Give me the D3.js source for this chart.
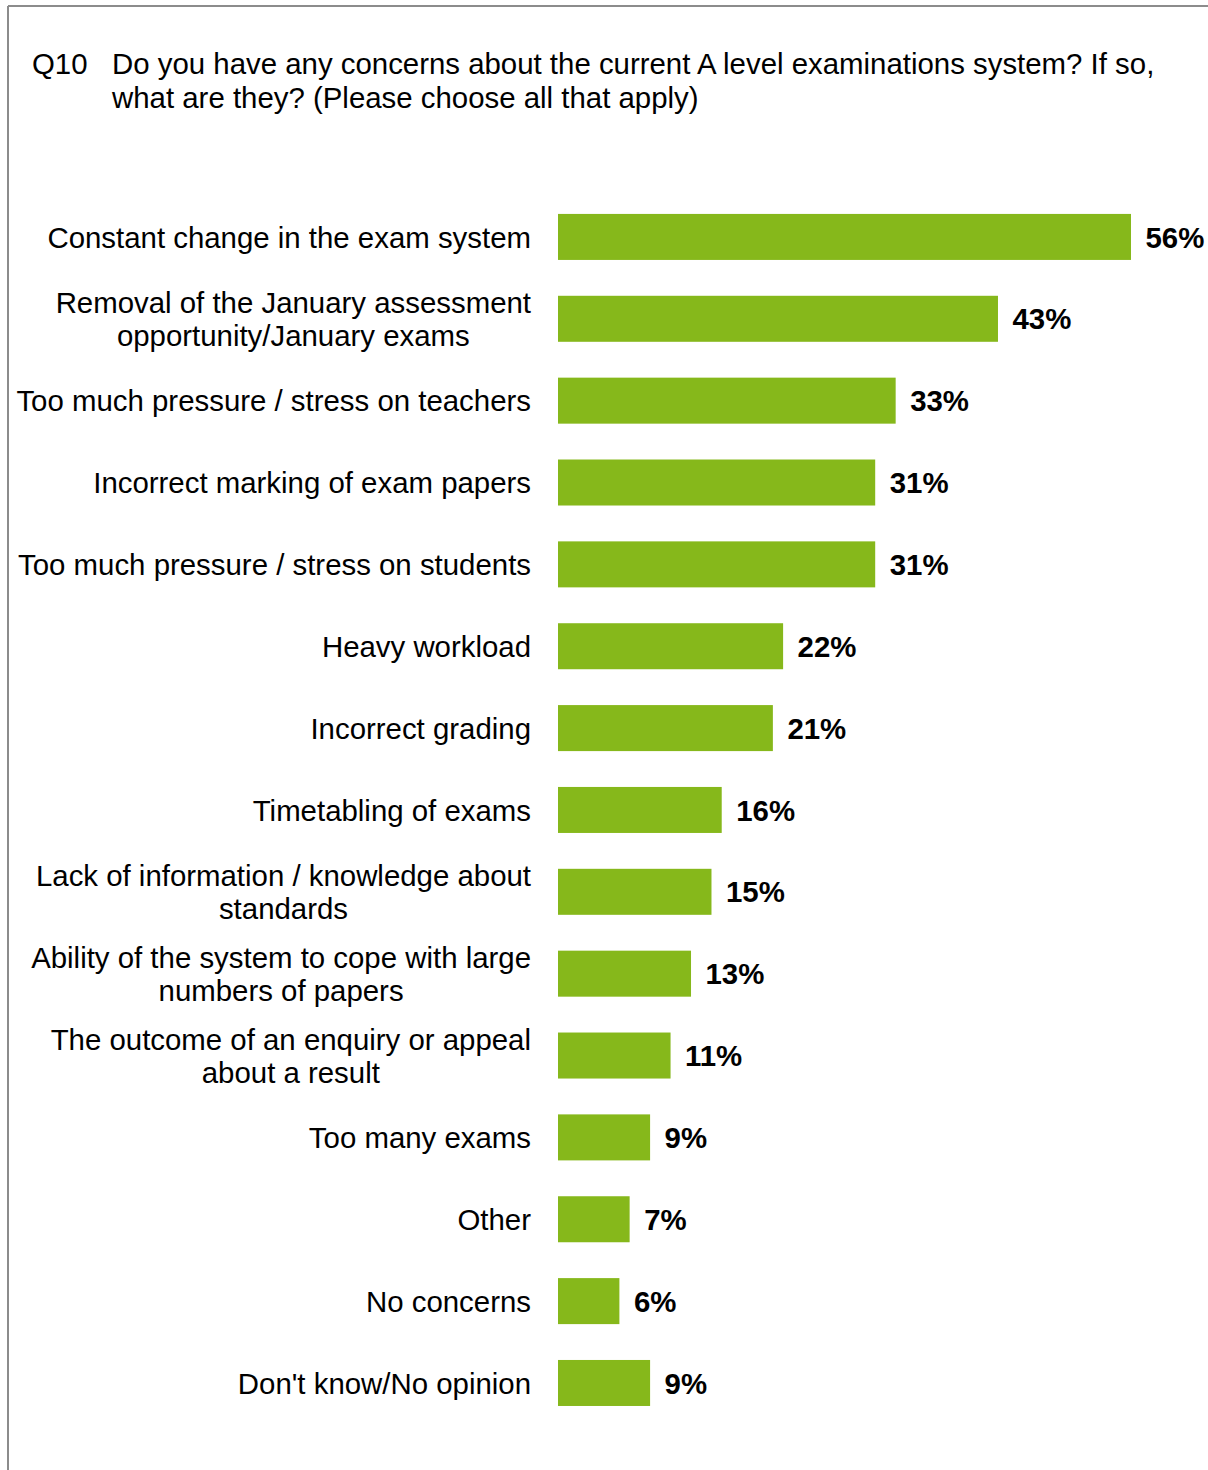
<!DOCTYPE html>
<html>
<head>
<meta charset="utf-8">
<script src="https://cdn.jsdelivr.net/npm/d3@7"></script>
<style>
  html, body { margin: 0; padding: 0; background: #fff; }
  svg { display: block; font-family: "Liberation Sans", Arial, sans-serif; }
</style>
</head>
<body>
<svg id="chart" width="1208" height="1470"></svg>
<script>
// Survey question and answer categories (multi-line labels split with "\n")
const titleNumber = "Q10";
const titleLines = [
  "Do you have any concerns about the current A level examinations system? If so,",
  "what are they? (Please choose all that apply)"
];
const categories = [
  "Constant change in the exam system",
  "Removal of the January assessment\nopportunity/January exams",
  "Too much pressure / stress on teachers",
  "Incorrect marking of exam papers",
  "Too much pressure / stress on students",
  "Heavy workload",
  "Incorrect grading",
  "Timetabling of exams",
  "Lack of information / knowledge about\nstandards",
  "Ability of the system to cope with large\nnumbers of papers",
  "The outcome of an enquiry or appeal\nabout a result",
  "Too many exams",
  "Other",
  "No concerns",
  "Don't know/No opinion"
];
// Share of respondents (%)
const values = [56, 43, 33, 31, 31, 22, 21, 16, 15, 13, 11, 9, 7, 6, 9];

const svg = d3.select("#chart");
const barColor = "#86b81b";
const fontSize = 29.4;

// Frame
svg.append("line").attr("x1", 8).attr("y1", 6).attr("x2", 1208).attr("y2", 6)
  .attr("stroke", "#8c8c8c").attr("stroke-width", 2);
svg.append("line").attr("x1", 8).attr("y1", 6).attr("x2", 8).attr("y2", 1470)
  .attr("stroke", "#8c8c8c").attr("stroke-width", 2);

// Title
const title = svg.append("g").attr("font-size", fontSize).attr("fill", "#000");
title.append("text").attr("x", 32).attr("y", 74).text(titleNumber);
titleLines.forEach((t, i) => {
  title.append("text").attr("x", 112).attr("y", 74 + i * 34).text(t);
});

// Scales
const x = d3.scaleLinear().domain([0, 56]).range([558, 1131]);
const y = d3.scaleBand()
  .domain(d3.range(categories.length))
  .range([196, 196 + 15 * 81.86])
  .paddingInner(0.438)
  .paddingOuter(0.219);

const data = categories.map((c, i) => ({ label: c, value: values[i], i }));

// Bars
svg.append("g").selectAll("rect").data(data).join("rect")
  .attr("x", x(0))
  .attr("y", d => y(d.i))
  .attr("width", d => x(d.value) - x(0))
  .attr("height", y.bandwidth())
  .attr("fill", barColor);

// Value labels
svg.append("g").attr("font-size", fontSize).attr("font-weight", "bold")
  .selectAll("text").data(data).join("text")
  .attr("x", d => x(d.value) + 14.5)
  .attr("y", d => y(d.i) + y.bandwidth() / 2)
  .attr("dy", "0.36em")
  .text(d => d.value + "%");

// Category labels: right-aligned block, lines centred within the block
const labelRight = 531;
const lineH = 33;
const lg = svg.append("g").attr("font-size", fontSize).attr("fill", "#000");
data.forEach(d => {
  const lines = d.label.split("\n");
  const cy = y(d.i) + y.bandwidth() / 2;
  const t = lg.append("text").attr("text-anchor", "middle");
  lines.forEach((ln, k) => {
    t.append("tspan")
      .attr("y", cy + (k - (lines.length - 1) / 2) * lineH)
      .attr("dy", "0.36em")
      .text(ln);
  });
  const widths = [];
  t.selectAll("tspan").each(function () { widths.push(this.getComputedTextLength()); });
  const w = d3.max(widths);
  t.selectAll("tspan").attr("x", labelRight - w / 2);
});
</script>
</body>
</html>
